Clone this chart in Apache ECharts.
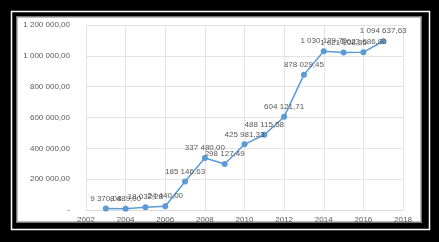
<!DOCTYPE html>
<html><head><meta charset="utf-8">
<script src="https://cdn.jsdelivr.net/npm/echarts@6/dist/echarts.min.js"></script>
<style>html,body{margin:0;padding:0;background:#000;}#c{width:439px;height:242px;}</style>
</head><body><div id="c"></div>
<script>
const years = [2003,2004,2005,2006,2007,2008,2009,2010,2011,2012,2013,2014,2015,2016,2017];
const values = [9370.08,8489.00,18032.28,24440.00,185146.63,337480.00,298127.49,425981.33,488115.58,604121.71,878029.45,1030129.75,1021108.35,1023686.80,1094637.63];
const xTicks = [2002,2004,2006,2008,2010,2012,2014,2016,2018];
const yTicks = [0,200000,400000,600000,800000,1000000,1200000];

function fmt(v){
  if(v===0) return '-';
  const fixed = v.toFixed(2);
  const parts = fixed.split('.');
  const intPart = parts[0].replace(/\B(?=(\d{3})+(?!\d))/g,' ');
  return intPart + ',' + parts[1];
}
const chart = echarts.init(document.getElementById('c'));
chart.setOption({
  backgroundColor:'#000',
  animation:false,
  graphic:[
    {type:'rect',shape:{x:11.5,y:11.5,width:418,height:218},style:{fill:'none',stroke:'#fff',lineWidth:1.5},z:0},
    {type:'rect',shape:{x:16,y:16,width:406,height:207},style:{fill:'#777'},z:0},
    {type:'rect',shape:{x:17,y:17,width:404,height:205},style:{fill:'#bbb'},z:0},
    {type:'rect',shape:{x:18,y:18,width:402,height:203},style:{fill:'#fff'},z:0}
  ],
  grid:{left:86,top:25,right:36,bottom:32,containLabel:false},
  xAxis:{type:'value',min:2002,max:2018,interval:2,
    axisLine:{show:true,lineStyle:{color:'#d9d9d9'}},axisTick:{show:false},
    splitLine:{show:true,lineStyle:{color:'#e3e3e3'}},
    axisLabel:{color:'#595959',fontSize:8,fontFamily:'Liberation Sans',margin:6,formatter:v=>String(v)}},
  yAxis:{type:'value',min:0,max:1200000,interval:200000,
    axisLine:{show:false},axisTick:{show:false},
    splitLine:{show:true,lineStyle:{color:'#e3e3e3'}},
    axisLabel:{color:'#595959',fontSize:8,fontFamily:'Liberation Sans',margin:16,formatter:v=>fmt(v)}},
  series:[{type:'line',data:years.map((y,i)=>[y,values[i]]),
    lineStyle:{color:'#5b9bd5',width:1.5},itemStyle:{color:'#5b9bd5'},
    symbol:'circle',symbolSize:6,
    label:{show:true,position:'top',distance:3,color:'#595959',fontSize:8,fontFamily:'Liberation Sans',formatter:p=>fmt(p.value[1])}}]
});
</script></body></html>
